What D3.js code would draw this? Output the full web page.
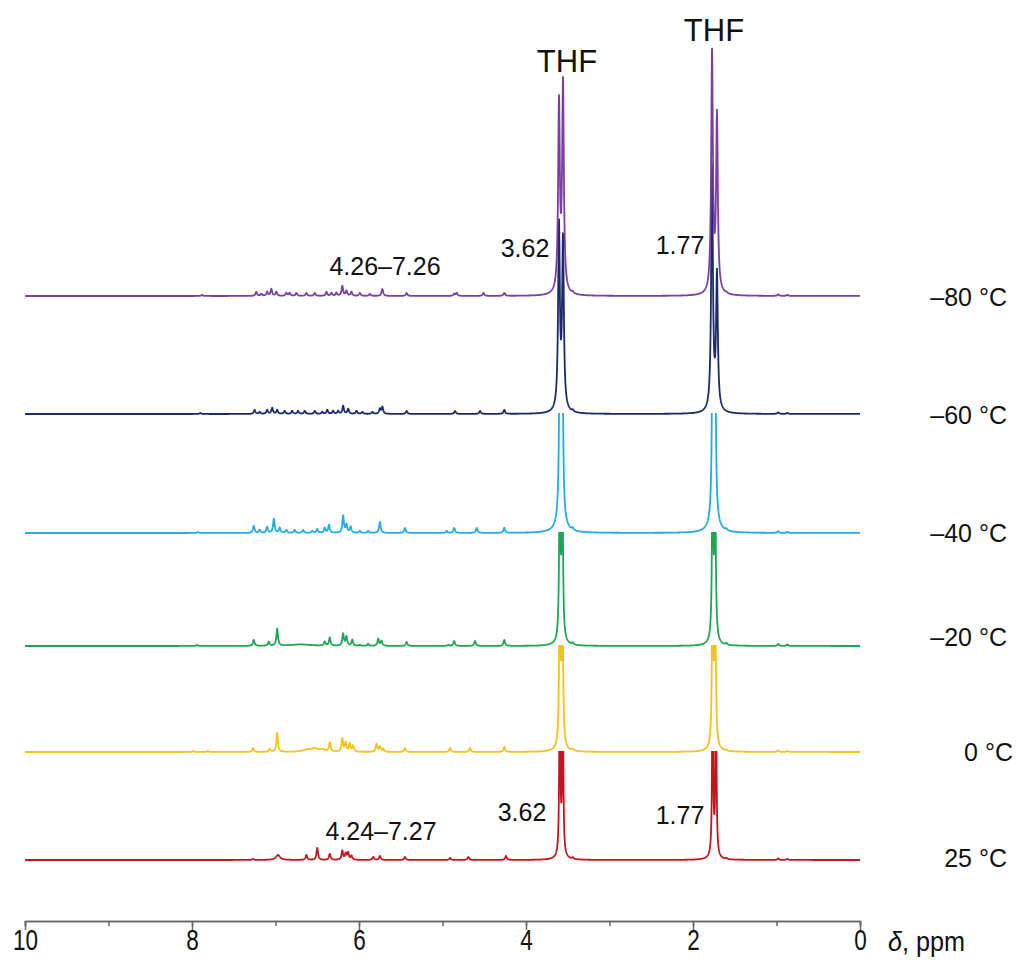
<!DOCTYPE html>
<html>
<head>
<meta charset="utf-8">
<script src="https://cdn.jsdelivr.net/npm/d3@7"></script>
<style>
  body { margin: 0; background: #fff; }
  text { font-family: "Liberation Sans", Arial, sans-serif; fill: #111; }
</style>
</head>
<body>
<svg id="chart" width="1017" height="963"></svg>
<script>
// temperatures, top to bottom
const temps = ["–80 °C", "–60 °C", "–40 °C", "–20 °C", "0 °C", "25 °C"];
const colors = ["#7b3fa3", "#1b2a6b", "#22ace2", "#1fa557", "#f5c21b", "#c3161c"];

// peaks: [ppm, intensity, half width (ppm, optional)]
const peaksM80 = [[7.88,1],[7.23,4],[7.17,2],[7.10,4],[7.05,7],[6.99,4],[6.87,3],[6.83,3],[6.75,3],[6.63,3],[6.53,3],
  [6.39,4],[6.33,3],[6.27,3],[6.20,10],[6.15,5],[6.09,4],[5.99,3],[5.87,2],[5.72,7],[5.43,3],[4.86,2],[4.83,3],[4.51,3],
  [4.26,3],[3.605,185,0.012],[3.557,204,0.012],[3.58,5,0.05],[3.44,1.5],[1.772,237,0.012],[1.713,173,0.012],[1.74,5,0.05],
  [1.60,1],[0.98,1.5],[0.87,1]];
const peaksM60 = [[7.90,1],[7.25,4],[7.19,2],[7.10,4],[7.04,6],[6.98,4],[6.89,3],[6.80,3],[6.73,3],[6.65,3],[6.53,3],
  [6.44,2],[6.38,4],[6.31,3],[6.25,3],[6.19,8],[6.13,5],[6.03,3],[5.96,2],[5.84,2],[5.75,5],[5.72,7],[5.43,3],[4.85,3],
  [4.55,3],[4.26,4],[3.605,181,0.012],[3.557,166,0.012],[3.58,5,0.05],[3.44,1.5],[1.772,241,0.012],[1.713,132,0.012],
  [1.74,5,0.05],[0.98,1.5],[0.87,1]];
const peaksM40 = [[7.93,1],[7.26,7],[7.19,3],[7.10,6],[7.02,14],[6.95,5],[6.87,3],[6.77,3],[6.67,3],[6.56,2],[6.50,4],
  [6.41,5],[6.36,8],[6.19,17],[6.15,8],[6.10,6],[5.99,2],[5.89,2],[5.75,11],[5.45,5],[4.95,2],[4.86,5],[4.59,5],[4.26,5],
  [3.595,190,0.01],[3.565,180,0.01],[3.58,12,0.06],[3.44,2],[1.765,190,0.01],[1.735,180,0.01],[1.75,12,0.06],
  [1.60,1.5],[0.98,1.5],[0.87,1]];
const peaksM20 = [[7.94,1],[7.26,6],[7.08,4],[6.98,17],[6.70,1.5,0.15],[6.41,4],[6.35,8],[6.19,12],[6.15,9],[6.08,6],
  [5.99,1],[5.89,2],[5.77,7],[5.73,5],[5.43,4],[4.93,1],[4.86,5],[4.61,5],[4.26,6],[3.595,200,0.008],[3.565,190,0.008],
  [3.58,5,0.05],[3.44,2],[1.765,200,0.008],[1.735,190,0.008],[1.75,5,0.05],[1.60,1.5],[0.98,2],[0.87,1.5]];
const peaks0 = [[7.99,1],[7.81,1],[7.27,4],[7.07,3],[6.98,19],[6.62,2,0.06],[6.53,3,0.05],[6.44,2,0.04],[6.35,9],
  [6.20,13],[6.16,9],[6.11,8],[6.07,6],[5.79,8],[5.75,5],[5.71,3],[5.45,4],[4.91,4],[4.67,4],[4.26,5],
  [3.595,200,0.008],[3.565,190,0.008],[3.58,5,0.05],[3.44,1.5],[1.765,200,0.008],[1.735,190,0.008],[1.75,5,0.05],
  [1.60,1],[0.98,1.5],[0.87,1]];
const peaks25 = [[7.27,1],[6.97,5,0.03],[6.63,5],[6.50,12],[6.35,6],[6.20,9],[6.16,6],[6.13,7],[6.09,4],[5.83,3],
  [5.75,4],[5.45,3],[4.91,2],[4.69,3],[4.24,4],[3.595,200,0.007],[3.56,190,0.007],[3.58,3,0.05],[3.44,1.5],
  [1.765,200,0.007],[1.725,190,0.007],[1.75,3,0.05],[1.60,1],[0.98,1.5],[0.87,1]];
const allPeaks = [peaksM80, peaksM60, peaksM40, peaksM20, peaks0, peaks25];

const xTicks = d3.range(0, 11);
const xLabels = [0, 2, 4, 6, 8, 10];

const svg = d3.select("#chart");
const x = d3.scaleLinear().domain([10, 0]).range([25, 860]);
const yInt = d3.scaleLinear().domain([0, 100]).range([0, -100]);
const yBase = d3.scaleOrdinal().domain(temps).range([296, 414, 533, 646, 752, 860]);
const yLab = d3.scaleOrdinal().domain(temps).range([297, 415, 533, 637, 752, 858]);

function spectrum(peaks) {
  let grid = d3.range(0, 10.0001, 0.003).concat(peaks.map(p => p[0]));
  grid.sort((a, b) => a - b);
  return grid.map(v => {
    let s = 0;
    peaks.forEach(p => {
      let w = p[2] || 0.011, d = (v - p[0]) / w;
      s += p[1] / (1 + d * d);
    });
    return [v, s];
  });
}

// the lower spectra are cut at the baseline of the spectrum above
let defs = svg.append("defs");
temps.forEach((t, i) => {
  if (i < 2) return;
  defs.append("clipPath").attr("id", "clip" + i)
      .append("rect")
      .attr("x", 0).attr("y", yBase(temps[i - 1]) - 1)
      .attr("width", 1017).attr("height", 963);
});

// draw from bottom trace up so upper spectra sit on top
let order = d3.range(temps.length).reverse();
order.forEach(i => {
  let t = temps[i];
  let line = d3.line().x(d => x(d[0])).y(d => yBase(t) + yInt(d[1]));
  let p = svg.append("path")
     .datum(spectrum(allPeaks[i]))
     .attr("d", line)
     .attr("fill", "none")
     .attr("stroke", colors[i])
     .attr("stroke-width", 1.8)
     .attr("stroke-linejoin", "round");
  if (i >= 2) p.attr("clip-path", `url(#clip${i})`);
});

// temperature labels
svg.selectAll("text.temp").data(temps).enter().append("text")
   .attr("class", "temp")
   .attr("x", d => d == "0 °C" ? 1013 : 1007)
   .attr("y", d => yLab(d))
   .attr("dy", "0.35em")
   .attr("text-anchor", "end")
   .attr("font-size", 25)
   .text(d => d);

// annotations
let notes = [
  {t: "THF", x: 567, y: 72, s: 31},
  {t: "THF", x: 714, y: 41, s: 31},
  {t: "3.62", x: 525, y: 257, s: 25},
  {t: "1.77", x: 680, y: 254, s: 25},
  {t: "4.26–7.26", x: 385, y: 275, s: 25},
  {t: "3.62", x: 522, y: 821, s: 25},
  {t: "1.77", x: 680, y: 824, s: 25},
  {t: "4.24–7.27", x: 381, y: 840, s: 25}
];
svg.selectAll("text.note").data(notes).enter().append("text")
   .attr("class", "note")
   .attr("x", d => d.x).attr("y", d => d.y)
   .attr("text-anchor", "middle")
   .attr("font-size", d => d.s)
   .text(d => d.t);

// x axis
let axisY = 921;
svg.append("g").attr("transform", `translate(0,${axisY})`)
   .call(d3.axisBottom(x).tickValues(xTicks).tickSize(5).tickFormat(""));
let major = svg.append("g").attr("transform", `translate(0,${axisY})`)
   .call(d3.axisBottom(x).tickValues(xLabels).tickSize(9).tickSizeOuter(0).tickPadding(5).tickFormat(d3.format("d")));
svg.selectAll(".domain, .tick line").attr("stroke", "#666").attr("stroke-width", 1.5);
// condensed look of the tick numbers
major.selectAll(".tick text")
   .attr("font-size", 30).attr("fill", "#111")
   .attr("y", 8)
   .attr("transform", "scale(0.75,1)");

let unit = svg.append("text").attr("x", 888).attr("y", 951)
   .attr("font-size", 28)
   .attr("transform", "translate(888,0) scale(0.9,1) translate(-888,0)");
unit.append("tspan").attr("font-style", "italic").text("δ");
unit.append("tspan").text(", ppm");
</script>
</body>
</html>
